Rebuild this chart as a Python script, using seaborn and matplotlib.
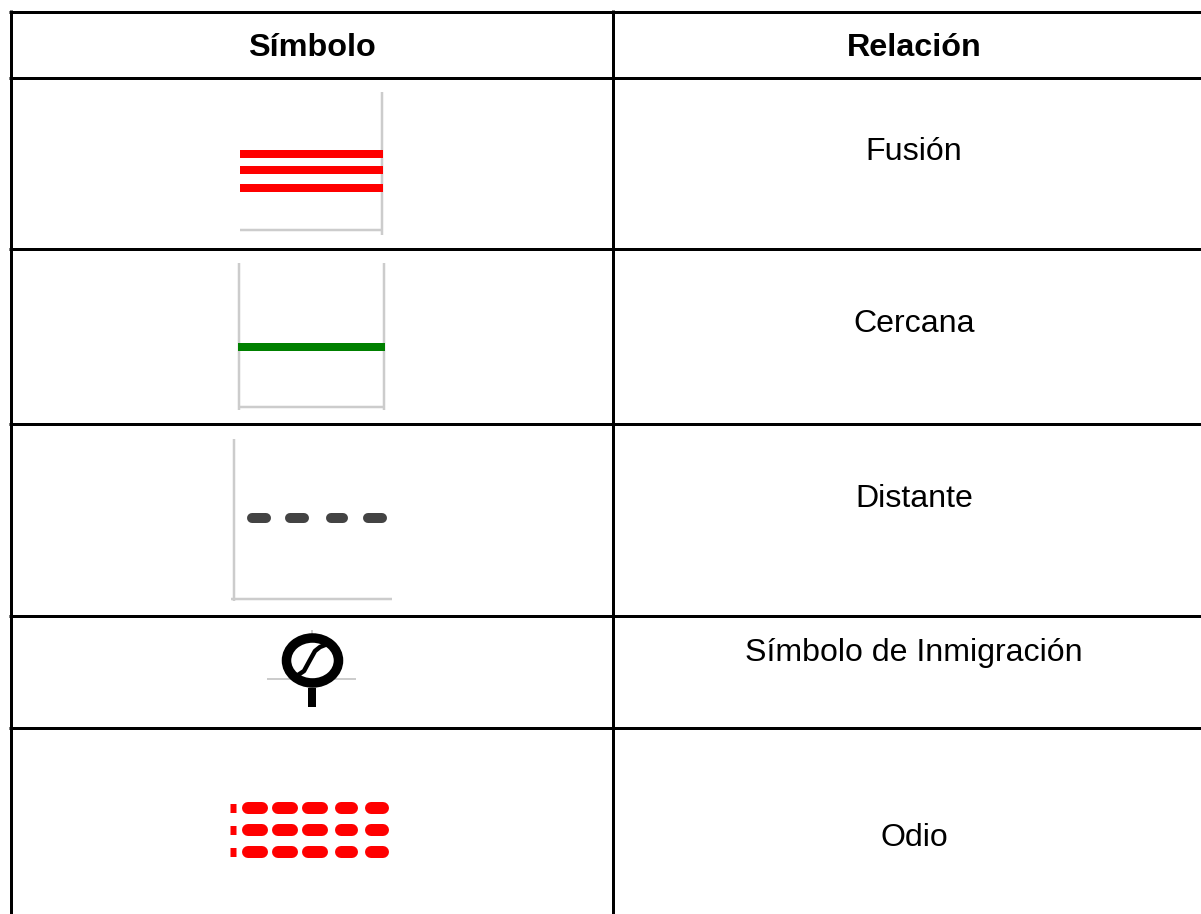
import matplotlib
matplotlib.use('Agg')
import matplotlib.pyplot as plt
from matplotlib.patches import Ellipse
import pandas as pd
import seaborn as sns

# table text
headers = ['Símbolo', 'Relación']
relations = ['Fusión', 'Cercana', 'Distante', 'Símbolo de Inmigración', 'Odio']

# table grid, in image pixels
row_lines = [11.5, 77.5, 248.5, 423.5, 615.5, 727.5]
col_lines = [10.5, 612.5]
header_y = 48
relation_y = [152, 324, 499, 653, 838]
symbol_x = 312
relation_x = 914

# symbol geometry
fusion_y = [154, 170, 188]
fusion_x = [240, 383]
close_y = [347]
close_x = [238, 385]
distant_y = [518]
distant_dashes = [(252, 266), (290, 304), (331, 343), (368, 382)]
hate_y = [808, 830, 852]
hate_dashes = [(248, 262), (278, 292), (308, 322), (341, 352), (371, 383)]
s_curve_x = [293, 298, 304, 310, 315, 320, 325, 330]
s_curve_y = [675, 675, 671, 660, 651, 647, 645, 644]

GRAY = '#cccccc'

sns.set_theme(style='white')
plt.rcParams['font.family'] = ['Liberation Sans', 'DejaVu Sans']

fig, ax = plt.subplots(figsize=(12.01, 9.14), dpi=100)
fig.subplots_adjust(left=0, right=1, bottom=0, top=1)


def seg(xs, ys, color, px, cap='butt'):
    df = pd.DataFrame({'x': xs, 'y': ys})
    sns.lineplot(data=df, x='x', y='y', color=color, linewidth=px * 0.72, ax=ax,
                 estimator=None, sort=False, legend=False, solid_capstyle=cap)


# grid
for y in row_lines:
    seg([9, 1201], [y, y], 'black', 3)
for x in col_lines:
    seg([x, x], [10, 914], 'black', 3)

# fusion
seg([382, 382], [92, 235], GRAY, 2.5)
seg([240, 382], [230, 230], GRAY, 2.5)
for y in fusion_y:
    seg(fusion_x, [y, y], '#ff0000', 8)

# close
seg([239, 239], [263, 410], GRAY, 2.5)
seg([384, 384], [263, 410], GRAY, 2.5)
seg([239, 384], [407, 407], GRAY, 2.5)
for y in close_y:
    seg(close_x, [y, y], '#008000', 8)

# distant
seg([234, 234], [439, 601], GRAY, 2.5)
seg([231, 392], [599, 599], GRAY, 2.5)
for a, b in distant_dashes:
    seg([a, b], [distant_y[0], distant_y[0]], '#434343', 10, 'round')

# immigration
seg([267, 356], [679, 679], GRAY, 2)
seg([312, 312], [630, 636], GRAY, 2)
ax.add_patch(Ellipse((312.5, 660.5), 52, 45, fill=False, edgecolor='black', linewidth=9.5 * 0.72, zorder=3))
seg(s_curve_x, s_curve_y, 'black', 4.5, 'round')
seg([311.5, 311.5], [688, 707], 'black', 8)

# hate
for y in hate_y:
    seg([230, 236], [y, y], '#ff0000', 9)
    for a, b in hate_dashes:
        seg([a, b], [y, y], '#ff0000', 12, 'round')

ax.set_xlim(0, 1201)
ax.set_ylim(914, 0)
ax.set_axis_off()

ax.text(symbol_x, header_y, headers[0], ha='center', va='center', fontsize=23.3, fontweight='bold', color='black')
ax.text(relation_x, header_y, headers[1], ha='center', va='center', fontsize=23.3, fontweight='bold', color='black')
for label, y in zip(relations, relation_y):
    ax.text(relation_x, y, label, ha='center', va='center', fontsize=23.1, color='black')

fig.savefig('out.png', dpi=100)
